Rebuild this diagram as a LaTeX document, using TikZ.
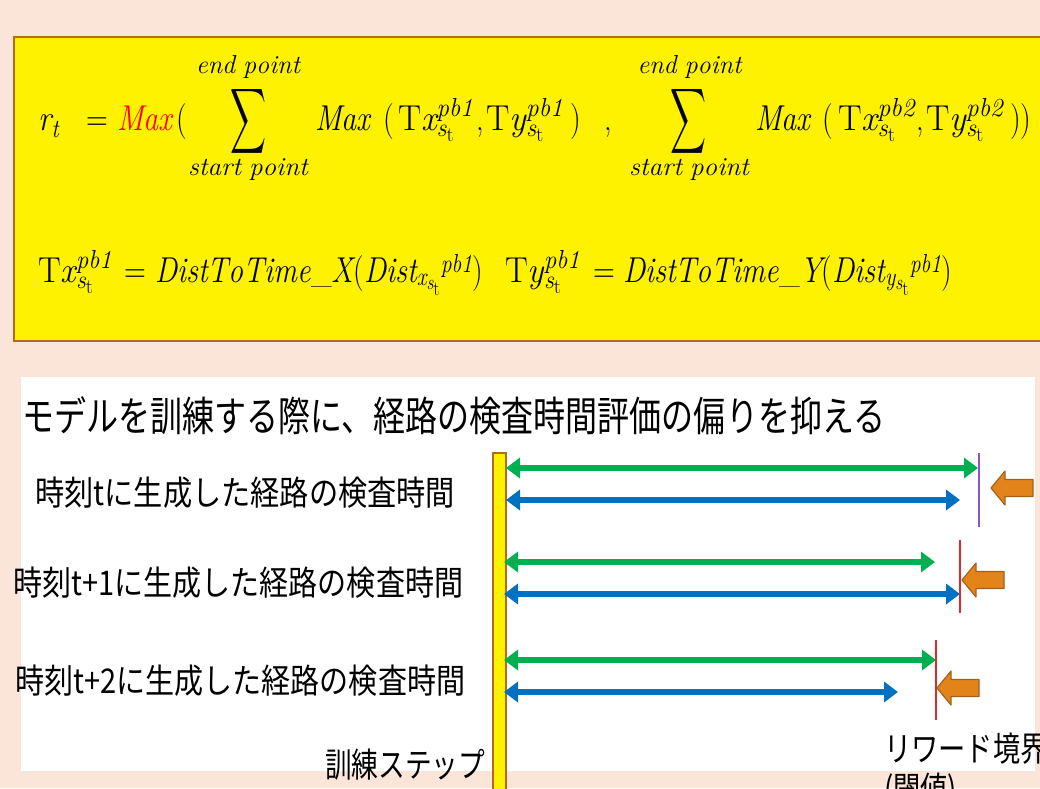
\documentclass[tikz,border=0pt]{standalone}
\usepackage{fontspec}
\usepackage{amsmath}
\usepackage{graphicx}
\usetikzlibrary{arrows.meta}
\newfontfamily\jpfont{Noto Sans CJK JP}
\DeclareMathSizes{36}{36}{26}{21}
\DeclareMathSizes{26}{26}{19}{15}
\definecolor{bgpeach}{HTML}{FAE5D8}
\definecolor{boxbrown}{HTML}{B5691E}
\definecolor{arrgreen}{HTML}{00B050}
\definecolor{arrblue}{HTML}{0070C0}
\definecolor{orfill}{HTML}{E3841A}
\definecolor{oredge}{HTML}{A5601A}
\definecolor{purpline}{HTML}{8A55C5}
\definecolor{redline}{HTML}{E02828}
\newcommand\fitw[2]{\resizebox{#1}{\height}{#2}}
\newcommand\cnd[1]{\scalebox{0.84}[1]{#1}}
\newcommand\mi[1]{\mathit{#1}}
\newcommand\tlp{\textup{(}}
\newcommand\trp{\textup{)}}
\newcommand\stt{\mi{s}_{\textup{t}}}
\newcommand\uT{\textup{T}}
\tikzset{
  mp/.style={inner sep=0pt, anchor=base west, font=\fontsize{36}{40}\selectfont},
  limtext/.style={inner sep=0pt, anchor=base, font=\fontsize{26}{30}\selectfont},
  bigsum/.style={inner sep=0pt, anchor=center},
  jplabel/.style={inner sep=0pt, anchor=west, font=\jpfont\fontsize{34}{40}\selectfont},
  dblarrow/.style={line width=6pt, {Triangle[length=14pt,width=20pt]}-{Triangle[length=14pt,width=20pt]}},
  greenarr/.style={dblarrow, draw=arrgreen},
  bluearr/.style={dblarrow, draw=arrblue},
  boundline/.style={line width=1.4pt},
  blockarrow/.pic={\filldraw[fill=orfill, draw=oredge, line width=1.2pt, line join=round]
     (0,0) -- (14,-17) -- (14,-8.5) -- (42,-8.5) -- (42,8.5) -- (14,8.5) -- (14,17) -- cycle;}
}
\begin{document}
\begin{tikzpicture}[x=1pt,y=-1pt]
\useasboundingbox (0,0) rectangle (1040,788);
\fill[bgpeach] (0,0) rectangle (1040,788);
% formula box
\filldraw[fill=yellow, draw=boxbrown, line width=2.5pt] (14,37) rectangle (1060,341);
% line 1
\node[mp] (rt) at (38,130) {\fitw{21pt}{$\mi{r}_{\mi{t}}$}};
\node[mp] (eqA) at (86,130) {\cnd{=}};
\node[mp] (mxA) at (117,130) {\cnd{$\textcolor{red}{\mi{Max}}$}};
\node[mp] (lpA) at (176,130) {\cnd{(}};
\node[bigsum] (s1) at (248,121.5) {\resizebox*{36pt}{73pt}{$\displaystyle\sum$}};
\node[limtext] (s1top) at (248,73) {\fitw{104pt}{$\mi{end\ point}$}};
\node[limtext] (s1bot) at (248,175) {\fitw{120pt}{$\mi{start\ point}$}};
\node[mp] (mxB) at (315,130) {\cnd{$\mi{Max}$}};
\node[mp] (lpB) at (383,130) {\cnd{(}};
\node[mp] (txB) at (398,130) {\fitw{75pt}{$\uT\mi{x}^{\mi{pb1}}_{\stt}$}};
\node[mp] (cmB) at (476,130) {\cnd{,}};
\node[mp] (tyB) at (486,130) {\fitw{77pt}{$\uT\mi{y}^{\mi{pb1}}_{\stt}$}};
\node[mp] (rpB) at (570,130) {\cnd{)}};
\node[mp] (cmA) at (604,130) {\cnd{,}};
\node[bigsum] (s2) at (688.5,121.5) {\resizebox*{36pt}{73pt}{$\displaystyle\sum$}};
\node[limtext] (s2top) at (689.5,73) {\fitw{104pt}{$\mi{end\ point}$}};
\node[limtext] (s2bot) at (689,175) {\fitw{120pt}{$\mi{start\ point}$}};
\node[mp] (mxC) at (755,130) {\cnd{$\mi{Max}$}};
\node[mp] (lpC) at (822,130) {\cnd{(}};
\node[mp] (txC) at (838,130) {\fitw{77pt}{$\uT\mi{x}^{\mi{pb2}}_{\stt}$}};
\node[mp] (cmC) at (916,130) {\cnd{,}};
\node[mp] (tyC) at (926,130) {\fitw{77pt}{$\uT\mi{y}^{\mi{pb2}}_{\stt}$}};
\node[mp] (rpC) at (1010,130) {\cnd{))}};
% line 2
\node[mp] (q1) at (38,282) {\fitw{74pt}{$\uT\mi{x}^{\mi{pb1}}_{\stt}$}};
\node[mp] (q1eq) at (124,282) {\cnd{=}};
\node[mp] (q1f) at (155,282) {\fitw{328pt}{$\mi{DistToTime\_X}\tlp\mi{Dist}_{\mi{x}_{\stt}}{}^{\mi{pb1}}\trp$}};
\node[mp] (q2) at (505,282) {\fitw{75pt}{$\uT\mi{y}^{\mi{pb1}}_{\stt}$}};
\node[mp] (q2eq) at (593,282) {\cnd{=}};
\node[mp] (q2f) at (623,282) {\fitw{329pt}{$\mi{DistToTime\_Y}\tlp\mi{Dist}_{\mi{y}_{\stt}}{}^{\mi{pb1}}\trp$}};
% white panel
\fill[white] (21,377) rectangle (1035,771);
\node[inner sep=0pt, anchor=west, font=\jpfont\fontsize{41}{46}\selectfont] (title) at (22,416)
  {\fitw{863pt}{モデルを訓練する際に、経路の検査時間評価の偏りを抑える}};
% training step bar
\filldraw[fill=yellow, draw=boxbrown, line width=1.5pt] (493,453) rectangle (506,800);
\node[jplabel] (l1) at (35,493) {\fitw{420pt}{時刻tに生成した経路の検査時間}};
\node[jplabel] (l2) at (13,583) {\fitw{450pt}{時刻t+1に生成した経路の検査時間}};
\node[jplabel] (l3) at (15,681) {\fitw{450pt}{時刻t+2に生成した経路の検査時間}};
\node[jplabel] (step) at (325,765) {\fitw{160pt}{訓練ステップ}};
\node[inner sep=0pt, anchor=north west, align=left, font=\jpfont\fontsize{34}{40}\selectfont] (rb) at (884,733)
  {\scalebox{0.8}[1]{リワード境界}\\\scalebox{0.8}[1]{(閾値)}};
% arrow endpoints
\coordinate (g1a) at (506,468); \coordinate (g1b) at (978,468);
\coordinate (b1a) at (506,500); \coordinate (b1b) at (960,500);
\coordinate (g2a) at (504,562); \coordinate (g2b) at (935,562);
\coordinate (b2a) at (504,594); \coordinate (b2b) at (960,594);
\coordinate (g3a) at (504,660); \coordinate (g3b) at (936,660);
\coordinate (b3a) at (504,692); \coordinate (b3b) at (898,692);
\draw[greenarr] (g1a) -- (g1b);
\draw[bluearr] (b1a) -- (b1b);
\draw[greenarr] (g2a) -- (g2b);
\draw[bluearr] (b2a) -- (b2b);
\draw[greenarr] (g3a) -- (g3b);
\draw[bluearr] (b3a) -- (b3b);
% boundaries
\coordinate (p1a) at (979,453); \coordinate (p1b) at (979,527);
\coordinate (r2a) at (960,540); \coordinate (r2b) at (960,613);
\coordinate (r3a) at (936,640); \coordinate (r3b) at (936,720);
\draw[boundline, purpline] (p1a) -- (p1b);
\draw[boundline, redline] (r2a) -- (r2b);
\draw[boundline, redline] (r3a) -- (r3b);
% block arrows
\pic at (991,488) {blockarrow};
\pic at (962,580) {blockarrow};
\pic at (937,688) {blockarrow};
\end{tikzpicture}
\end{document}
